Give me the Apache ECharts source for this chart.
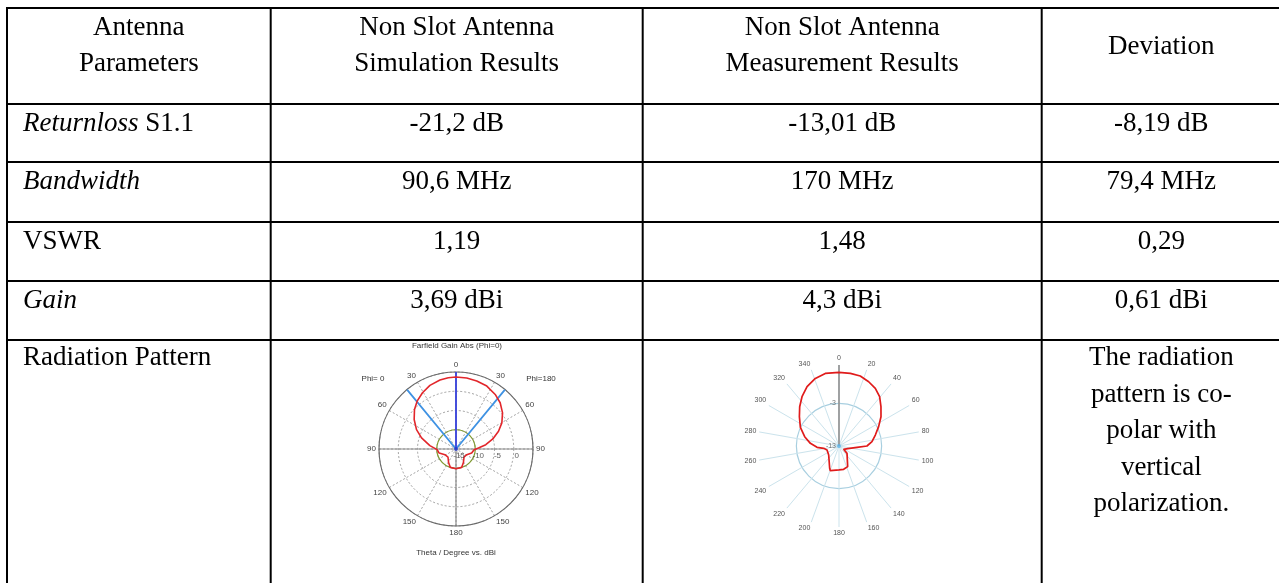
<!DOCTYPE html>
<html><head><meta charset="utf-8">
<script src="https://cdn.jsdelivr.net/npm/echarts@6/dist/echarts.min.js"></script>
<style>html,body{margin:0;padding:0;background:#fff}#c{width:1279px;height:583px}</style>
</head><body><div id="c"></div>
<script>
// ---------- table content ----------
const headerLines = [['Antenna','Parameters'],['Non Slot Antenna','Simulation Results'],['Non Slot Antenna','Measurement Results'],['Deviation']];
const paramItalic = ['Returnloss','Bandwidth','','Gain',''];
const paramPlain  = [' S1.1','','VSWR','','Radiation Pattern'];
const simulationResults  = ['-21,2 dB','90,6 MHz','1,19','3,69 dBi'];
const measurementResults = ['-13,01 dB','170 MHz','1,48','4,3 dBi'];
const deviations         = ['-8,19 dB','79,4 MHz','0,29','0,61 dBi'];
const patternNote = ['The radiation','pattern is co-','polar with','vertical','polarization.'];

// ---------- simulated farfield (Phi=0 cut): theta clockwise from top (deg), gain (dBi) ----------
const simTheta = [0,8.6,17.0,26.1,35.7,43.7,52.2,60.3,67.3,74.7,81.7,87.4,92.1,104.3,118,135,151.2,162.8,180,197.2,208.8,225,242.7,256.5,268,277.3,287.8,296.2,305.2,313.6,320.9,329.2,337.7,346.9,353.8,360];
const simGain  = [3.70,3.64,3.46,3.20,2.45,1.61,0.30,-1.29,-3.03,-5.09,-7.18,-9.17,-10.3,-10.8,-11.85,-12.05,-11.0,-10.0,-9.87,-10.0,-11.0,-12.05,-11.77,-10.5,-10.1,-8.16,-5.6,-3.57,-1.7,-0.11,1.01,2.0,2.86,3.39,3.63,3.70];
const simRadialTicks = [-15,-10,-5,0];
const simMainBeam = 0;
const simBeamEdges = [320.5, 39.5];
const simTitle = 'Farfield Gain Abs (Phi=0)';
const simAxisTitle = 'Theta / Degree vs. dBi';
const simPhiLabels = ['Phi= 0','Phi=180'];

// ---------- measured pattern ----------
const measTheta = [0,8.9,16.9,24.8,32.2,39.5,46.9,55.1,64.0,73.2,82.5,90,94.2,107.1,125.5,132.5,157.2,168.7,180,199.4,202.7,228.9,251.6,261.3,266.5,275.3,285.2,295.8,306.5,315,323.1,331.7,340.7,349.3,360];
const measGain  = [4.27,4.24,4.15,3.60,2.98,1.98,0.48,-0.99,-2.66,-4.10,-5.20,-6.44,-8.77,-10.87,-11.66,-10.45,-7.75,-7.42,-7.38,-6.87,-7.33,-9.79,-10.04,-9.37,-7.84,-6.25,-4.66,-2.94,-1.44,0.04,1.45,2.80,3.80,4.33,4.27];
const measRadialTicks = [-13,-3];

// ---------- layout ----------
const X = [7, 270.7, 642.7, 1041.7, 1281];
const Y = [8, 104, 162, 222, 281, 340, 600];
const SERIF = '"Liberation Serif","Times New Roman",serif';
const FS = 27;
const SANS = '"Liberation Sans",Arial,sans-serif';

const ctx = document.createElement('canvas').getContext('2d');
function tw(t, italic){ ctx.font = (italic?'italic ':'') + FS + 'px ' + SERIF; return ctx.measureText(t).width; }

const g = [];
function txt(t, x, y, align, italic, size, family, fill){
  g.push({type:'text', x:x, y:y, z:10, silent:true, style:{text:t, fill:fill||'#000',
    font:(italic?'italic ':'') + (size||FS) + 'px ' + (family||SERIF),
    align:align, textAlign:align, verticalAlign:'middle', textVerticalAlign:'middle'}});
}
Y.slice(0,6).forEach(y=>g.push({type:'line', z:10, silent:true, shape:{x1:X[0]-1, y1:y, x2:1282, y2:y}, style:{stroke:'#000', lineWidth:2}}));
X.forEach(x=>g.push({type:'line', z:10, silent:true, shape:{x1:x, y1:Y[0]-1, x2:x, y2:Y[6]}, style:{stroke:'#000', lineWidth:2}}));

const colC = [0,1,2,3].map(i=>(X[i]+X[i+1])/2);
headerLines.forEach((lines,i)=>{
  if(lines.length===2){ txt(lines[0], colC[i], 28, 'center'); txt(lines[1], colC[i], 64, 'center'); }
  else txt(lines[0], colC[i], 46.5, 'center');
});
const rowY = [124, 182, 242, 301, 358];
for(let r=0;r<5;r++){
  let x = 23;
  if(paramItalic[r]){ txt(paramItalic[r], x, rowY[r], 'left', true); x += tw(paramItalic[r], true); }
  if(paramPlain[r]){ txt(paramPlain[r], x, rowY[r], 'left', false); }
  if(r<4){
    txt(simulationResults[r], colC[1], rowY[r], 'center');
    txt(measurementResults[r], colC[2], rowY[r], 'center');
    txt(deviations[r], colC[3], rowY[r], 'center');
  }
}
patternNote.forEach((l,i)=>txt(l, colC[3], 358 + i*36.6, 'center'));

// chart small texts
txt(simTitle, 457, 346, 'center', false, 8, SANS, '#333');
txt(simPhiLabels[0], 373, 379, 'center', false, 8, SANS, '#333');
txt(simPhiLabels[1], 541, 379, 'center', false, 8, SANS, '#333');
txt(simAxisTitle, 456, 553, 'center', false, 8, SANS, '#333');

const SIM_MIN = -15, SIM_MAX = 5, MEAS_MIN = -13, MEAS_MAX = 6;
const T = 'rgba(0,0,0,0)';

const option = {
  animation:false,
  backgroundColor:'#fff',
  graphic: g,
  polar:[
    {center:[456,449], radius:77},
    {center:[456,449], radius:77},
    {center:[839,446], radius:81}
  ],
  angleAxis:[
    {polarIndex:0, type:'value', min:0, max:360, interval:30, startAngle:90, clockwise:true,
     axisLine:{show:true, lineStyle:{color:'#6a6a6a', width:1.2}}, axisTick:{show:false},
     axisLabel:{margin:3, fontSize:8, color:'#444', fontFamily:SANS, formatter:v=>v>=360?'':String(v<=180?v:360-v)},
     splitLine:{show:true, lineStyle:{color:'#8a8a8a', type:[2,2], width:0.8}}},
    {polarIndex:1, type:'value', min:0, max:360, interval:90, startAngle:90, clockwise:true,
     axisLine:{show:false}, axisTick:{show:false}, axisLabel:{show:false},
     splitLine:{show:true, lineStyle:{color:'#8c8c8c', width:1.2}}},
    {polarIndex:2, type:'value', min:0, max:360, interval:20, startAngle:90, clockwise:true,
     axisLine:{show:false}, axisTick:{show:false},
     axisLabel:{margin:3, fontSize:7, color:'#555', fontFamily:SANS, formatter:v=>v>=360?'':String(v)},
     splitLine:{show:true, lineStyle:{color:'#cbe3ec', width:1}}}
  ],
  radiusAxis:[
    {polarIndex:0, type:'value', min:SIM_MIN, max:SIM_MAX, interval:5, axisLine:{show:false}, axisTick:{show:false}, axisLabel:{show:false},
     splitLine:{show:true, lineStyle:{color:'#8a8a8a', type:[2,2], width:0.8}}},
    {polarIndex:1, type:'value', min:SIM_MIN, max:SIM_MAX, interval:5, axisLine:{show:false}, axisTick:{show:false}, axisLabel:{show:false},
     splitLine:{show:true, lineStyle:{color:[T,'#7f9b2e',T,T,T], width:1.2}}},
    {polarIndex:2, type:'value', min:MEAS_MIN, max:MEAS_MAX, interval:10, axisLine:{show:false}, axisTick:{show:false}, axisLabel:{show:false},
     splitLine:{show:true, lineStyle:{color:[T,'#a8cfe0',T], width:1.2}}}
  ],
  series:[
    {type:'line', coordinateSystem:'polar', polarIndex:1, data:[[SIM_MAX,simBeamEdges[0]],[SIM_MIN,simMainBeam],[SIM_MAX,simBeamEdges[1]]],
     showSymbol:false, silent:true, lineStyle:{color:'#3f92e3', width:1.8}, z:3},
    {type:'line', coordinateSystem:'polar', polarIndex:1, data:[[SIM_MIN,simMainBeam],[SIM_MAX,simMainBeam]],
     showSymbol:false, silent:true, lineStyle:{color:'#3a45e0', width:1.8}, z:3},
    {type:'line', coordinateSystem:'polar', polarIndex:0, data:simTheta.map((t,i)=>[simGain[i],t]),
     showSymbol:false, silent:true, lineStyle:{color:'#e2262b', width:1.6}, z:4},
    {type:'scatter', coordinateSystem:'polar', polarIndex:0, data:[[SIM_MIN,0]], symbolSize:4, silent:true, itemStyle:{color:'#2438c8'}, z:5},
    {type:'scatter', coordinateSystem:'polar', polarIndex:0, data:simRadialTicks.map(r=>[r,90]), symbolSize:0, silent:true, z:6,
     label:{show:true, position:'bottom', distance:3, offset:[3,0], fontSize:8, color:'#333', fontFamily:SANS, formatter:p=>String(p.value[0])}},
    {type:'line', coordinateSystem:'polar', polarIndex:2, data:[[MEAS_MIN,0],[MEAS_MAX,0]],
     showSymbol:false, silent:true, lineStyle:{color:'#8e8e8e', width:1.6}, z:3},
    {type:'line', coordinateSystem:'polar', polarIndex:2, data:measTheta.map((t,i)=>[measGain[i],t]),
     showSymbol:false, silent:true, lineStyle:{color:'#e01b1b', width:1.7}, z:4},
    {type:'scatter', coordinateSystem:'polar', polarIndex:2, data:[[MEAS_MIN,0]], symbolSize:4, silent:true, itemStyle:{color:'#5ab3ea'}, z:5},
    {type:'scatter', coordinateSystem:'polar', polarIndex:2, data:measRadialTicks.map(r=>[r,0]), symbolSize:0, silent:true, z:6,
     label:{show:true, position:'left', distance:3, fontSize:7, color:'#555', fontFamily:SANS, formatter:p=>String(p.value[0])}}
  ]
};
const chart = echarts.init(document.getElementById('c'), null, {renderer:'canvas'});
chart.setOption(option);
</script></body></html>
